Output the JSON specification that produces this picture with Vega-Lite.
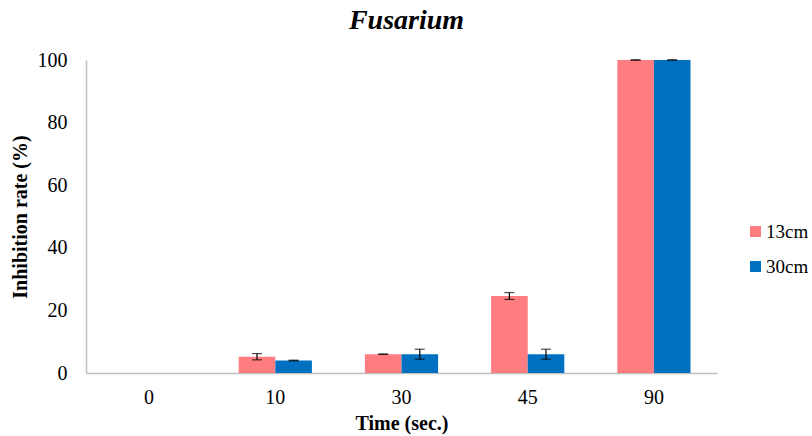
{
  "$schema": "https://vega.github.io/schema/vega-lite/v6.json",
  "width": 631,
  "height": 313,
  "autosize": {"type": "none"},
  "padding": {"left": 86, "top": 60, "right": 95, "bottom": 63},
  "background": "white",
  "title": {
    "text": "Fusarium",
    "font": "Times New Roman, Liberation Serif, serif",
    "fontSize": 28,
    "fontWeight": "bold",
    "fontStyle": "italic",
    "color": "black",
    "anchor": "middle",
    "offset": 15,
    "dx": 5
  },
  "data": {
    "values": [
      {"Time": "0", "Distance": "13cm", "Rate": 0, "Lo": null, "Hi": null},
      {"Time": "0", "Distance": "30cm", "Rate": 0, "Lo": null, "Hi": null},
      {"Time": "10", "Distance": "13cm", "Rate": 5.2, "Lo": 4.2, "Hi": 6.2},
      {"Time": "10", "Distance": "30cm", "Rate": 4.0, "Lo": 3.9, "Hi": 4.1},
      {"Time": "30", "Distance": "13cm", "Rate": 6.0, "Lo": 5.95, "Hi": 6.05},
      {"Time": "30", "Distance": "30cm", "Rate": 6.0, "Lo": 4.4, "Hi": 7.6},
      {"Time": "45", "Distance": "13cm", "Rate": 24.6, "Lo": 23.5, "Hi": 25.7},
      {"Time": "45", "Distance": "30cm", "Rate": 6.0, "Lo": 4.4, "Hi": 7.6},
      {"Time": "90", "Distance": "13cm", "Rate": 100, "Lo": 99.95, "Hi": 100.05},
      {"Time": "90", "Distance": "30cm", "Rate": 100, "Lo": 99.95, "Hi": 100.05}
    ]
  },
  "encoding": {
    "x": {
      "field": "Time",
      "type": "nominal",
      "sort": ["0", "10", "30", "45", "90"],
      "scale": {"paddingInner": 0.42, "paddingOuter": 0.21},
      "axis": {
        "title": "Time (sec.)",
        "labelAngle": 0,
        "labelFont": "Times New Roman, Liberation Serif, serif",
        "labelFontSize": 20,
        "labelColor": "black",
        "labelPadding": 14,
        "ticks": false,
        "domainColor": "#BFBFBF",
        "domainWidth": 1.5,
        "titleFont": "Times New Roman, Liberation Serif, serif",
        "titleFontSize": 20,
        "titleFontWeight": "bold",
        "titleColor": "black",
        "titlePadding": 6
      }
    },
    "xOffset": {"field": "Distance", "type": "nominal", "scale": {"paddingInner": 0, "paddingOuter": 0}},
    "y": {
      "field": "Rate",
      "type": "quantitative",
      "scale": {"domain": [0, 100], "nice": false},
      "axis": {
        "title": "Inhibition rate (%)",
        "values": [0, 20, 40, 60, 80, 100],
        "grid": false,
        "ticks": false,
        "labelFont": "Times New Roman, Liberation Serif, serif",
        "labelFontSize": 20,
        "labelColor": "black",
        "labelPadding": 19,
        "domainColor": "#BFBFBF",
        "domainWidth": 1.5,
        "titleFont": "Times New Roman, Liberation Serif, serif",
        "titleFontSize": 20,
        "titleFontWeight": "bold",
        "titleColor": "black",
        "titlePadding": 7
      }
    }
  },
  "layer": [
    {
      "mark": {"type": "bar"},
      "encoding": {
        "color": {
          "field": "Distance",
          "type": "nominal",
          "scale": {"domain": ["13cm", "30cm"], "range": ["#FF7C80", "#0070C0"]},
          "legend": {
            "title": null,
            "orient": "none",
            "legendX": 660,
            "legendY": 162,
            "symbolType": "square",
            "symbolSize": 121,
            "symbolStrokeWidth": 0,
            "labelFont": "Times New Roman, Liberation Serif, serif",
            "labelFontSize": 19,
            "labelColor": "black",
            "labelOffset": 1,
            "rowPadding": 15
          }
        }
      }
    },
    {
      "mark": {"type": "rule", "color": "black", "strokeWidth": 1.2},
      "encoding": {"y": {"field": "Lo", "type": "quantitative"}, "y2": {"field": "Hi"}}
    },
    {
      "mark": {"type": "tick", "color": "black", "orient": "horizontal", "size": 10, "thickness": 1.2},
      "encoding": {"y": {"field": "Lo", "type": "quantitative"}}
    },
    {
      "mark": {"type": "tick", "color": "black", "orient": "horizontal", "size": 10, "thickness": 1.2},
      "encoding": {"y": {"field": "Hi", "type": "quantitative"}}
    }
  ],
  "config": {"view": {"stroke": null}, "font": "Times New Roman, Liberation Serif, serif"}
}
